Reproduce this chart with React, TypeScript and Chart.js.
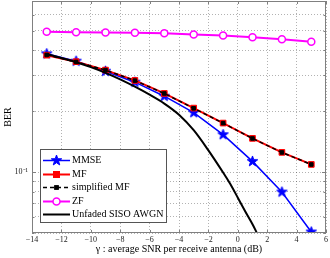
import React, { useEffect, useRef } from "react";
import { Chart, registerables } from "chart.js";

Chart.register(...registerables);

// ---- data ----
const snrPoints = [-13, -11, -9, -7, -5, -3, -1, 1, 3, 5];
const mmseBer = [0.384, 0.353, 0.315, 0.278, 0.237, 0.1965, 0.153, 0.1129, 0.0797, 0.0506];
const mfBer = [0.378, 0.351, 0.319, 0.2836, 0.2446, 0.207, 0.1746, 0.1467, 0.1251, 0.1091];
const simplifiedMfBer = [0.379, 0.35, 0.319, 0.283, 0.2445, 0.2065, 0.1745, 0.1465, 0.125, 0.109];
const zfBer = [0.493, 0.491, 0.489, 0.4875, 0.485, 0.478, 0.473, 0.4636, 0.4534, 0.44];
const awgnSnr = [-13, -12, -11, -10, -9, -8, -7, -6, -5, -4, -3, -2, -1, -0.5, 0, 0.5, 1, 1.32];
const awgnBer = [0.383, 0.366, 0.349, 0.33, 0.309, 0.287, 0.264, 0.241, 0.218, 0.192, 0.161, 0.128, 0.0995, 0.087, 0.0747, 0.064, 0.0552, 0.0497];
const xTickValues = [-14, -12, -10, -8, -6, -4, -2, 0, 2, 4, 6];
const yGridValues = [0.05, 0.06, 0.07, 0.08, 0.09, 0.1, 0.2, 0.3, 0.4, 0.5, 0.6, 0.7];
const seriesNames = ["MMSE", "MF", "simplified MF", "ZF", "Unfaded SISO AWGN"];

const FONT = "'Liberation Serif', 'Times New Roman', serif";

function makeStar(color: string, r: number): HTMLCanvasElement {
  const c = document.createElement("canvas");
  const s = Math.ceil(r * 2 + 2);
  c.width = s;
  c.height = s;
  const ctx = c.getContext("2d")!;
  const cx = s / 2, cy = s / 2;
  ctx.beginPath();
  for (let i = 0; i < 10; i++) {
    const rad = i % 2 === 0 ? r : r * 0.4;
    const a = -Math.PI / 2 + (i * Math.PI) / 5;
    const px = cx + rad * Math.cos(a);
    const py = cy + rad * Math.sin(a);
    if (i === 0) ctx.moveTo(px, py);
    else ctx.lineTo(px, py);
  }
  ctx.closePath();
  ctx.fillStyle = color;
  ctx.fill();
  ctx.strokeStyle = color;
  ctx.lineWidth = 1;
  ctx.stroke();
  return c;
}

const toXY = (xs: number[], ys: number[]) => xs.map((x, i) => ({ x, y: ys[i] }));

export default function App() {
  const ref = useRef<HTMLCanvasElement>(null);

  useEffect(() => {
    if (!ref.current) return;
    const star = makeStar("#0000ff", 5.5);

    const boxPlugin = {
      id: "boxAndLegend",
      afterDraw(chart: any) {
        const { ctx, chartArea: a } = chart;
        const xs = chart.scales.x;
        const ys = chart.scales.y;
        ctx.save();
        ctx.strokeStyle = "#808080";
        ctx.lineWidth = 1;
        ctx.strokeRect(Math.round(a.left) + 0.5, Math.round(a.top) + 0.5, Math.round(a.right - a.left) - 1, Math.round(a.bottom - a.top) - 1);
        ctx.beginPath();
        xTickValues.forEach((v) => {
          const p = Math.round(xs.getPixelForValue(v)) + 0.5;
          ctx.moveTo(p, a.bottom);
          ctx.lineTo(p, a.bottom - 3);
          ctx.moveTo(p, a.top);
          ctx.lineTo(p, a.top + 3);
        });
        yGridValues.forEach((v) => {
          const p = Math.round(ys.getPixelForValue(v)) + 0.5;
          const len = v === 0.1 ? 4 : 2.5;
          ctx.moveTo(a.left, p);
          ctx.lineTo(a.left + len, p);
          ctx.moveTo(a.right, p);
          ctx.lineTo(a.right - len, p);
        });
        ctx.stroke();

        // legend
        const lx = a.left + 8;
        const lw = 126;
        const lh = 73;
        const ly = a.bottom - 11 - lh;
        ctx.fillStyle = "#ffffff";
        ctx.fillRect(lx, ly, lw, lh);
        ctx.strokeStyle = "#555555";
        ctx.strokeRect(Math.round(lx) + 0.5, Math.round(ly) + 0.5, lw, lh);
        const rowH = 13.5;
        chart.data.datasets.forEach((ds: any, i: number) => {
          const y = Math.round(ly + 11 + i * rowH) + 0.5;
          const x0 = lx + 3;
          const x1 = lx + 30;
          const xm = (x0 + x1) / 2;
          ctx.save();
          ctx.strokeStyle = ds.borderColor;
          ctx.lineWidth = ds.borderWidth;
          ctx.setLineDash(ds.borderDash || []);
          ctx.beginPath();
          ctx.moveTo(x0, y);
          ctx.lineTo(x1, y);
          ctx.stroke();
          ctx.setLineDash([]);
          const r = ds.pointRadius;
          if (r > 0) {
            if (ds.pointStyle === "rect") {
              ctx.fillStyle = ds.pointBackgroundColor;
              ctx.strokeStyle = ds.pointBorderColor;
              ctx.lineWidth = ds.pointBorderWidth;
              ctx.fillRect(xm - r * 0.75, y - r * 0.75, r * 1.5, r * 1.5);
              ctx.strokeRect(xm - r * 0.75, y - r * 0.75, r * 1.5, r * 1.5);
            } else if (ds.pointStyle === "circle") {
              ctx.fillStyle = ds.pointBackgroundColor;
              ctx.strokeStyle = ds.pointBorderColor;
              ctx.lineWidth = ds.pointBorderWidth;
              ctx.beginPath();
              ctx.arc(xm, y, r, 0, Math.PI * 2);
              ctx.fill();
              ctx.stroke();
            } else if (ds.pointStyle instanceof HTMLCanvasElement) {
              ctx.drawImage(ds.pointStyle, xm - ds.pointStyle.width / 2, y - ds.pointStyle.height / 2);
            }
          }
          ctx.fillStyle = "#000";
          ctx.font = `10px ${FONT}`;
          ctx.textBaseline = "middle";
          ctx.textAlign = "left";
          ctx.fillText(ds.label, x1 + 2, y);
          ctx.restore();
        });
        ctx.restore();
      },
    };

    const chart = new Chart(ref.current, {
      type: "line",
      data: {
        datasets: [
          {
            label: seriesNames[0],
            data: toXY(snrPoints, mmseBer),
            borderColor: "#0000ff",
            borderWidth: 1.5,
            pointStyle: star as any,
            pointRadius: 5,
            pointBackgroundColor: "#0000ff",
            pointBorderColor: "#0000ff",
            pointBorderWidth: 1,
            order: 4,
          },
          {
            label: seriesNames[1],
            data: toXY(snrPoints, mfBer),
            borderColor: "#ff0000",
            borderWidth: 2,
            pointStyle: "rect",
            pointRadius: 4,
            pointBackgroundColor: "#ff0000",
            pointBorderColor: "#ff0000",
            pointBorderWidth: 1,
            order: 3,
          },
          {
            label: seriesNames[2],
            data: toXY(snrPoints, simplifiedMfBer),
            borderColor: "#000000",
            borderWidth: 1.5,
            borderDash: [4, 3],
            pointStyle: "rect",
            pointRadius: 2.5,
            pointBackgroundColor: "#000000",
            pointBorderColor: "#000000",
            pointBorderWidth: 1,
            order: 2,
          },
          {
            label: seriesNames[3],
            data: toXY(snrPoints, zfBer),
            borderColor: "#ff00ff",
            borderWidth: 2,
            pointStyle: "circle",
            pointRadius: 3.5,
            pointBackgroundColor: "#ffffff",
            pointBorderColor: "#ff00ff",
            pointBorderWidth: 1.5,
            order: 1,
          },
          {
            label: seriesNames[4],
            data: toXY(awgnSnr, awgnBer),
            borderColor: "#000000",
            borderWidth: 2,
            pointRadius: 0,
            pointStyle: "circle",
            tension: 0.3,
            order: 0,
          },
        ] as any,
      },
      options: {
        animation: false,
        responsive: false,
        events: [],
        layout: { autoPadding: false, padding: { top: 1, right: 4, left: 0, bottom: 0 } },
        plugins: { legend: { display: false }, tooltip: { enabled: false } },
        scales: {
          x: {
            type: "linear",
            min: -14,
            max: 6,
            afterBuildTicks: (s: any) => {
              s.ticks = xTickValues.map((v) => ({ value: v }));
            },
            afterFit: (s: any) => {
              s.height = 25;
              s.paddingLeft = 0;
              s.paddingRight = 0;
            },
            border: { display: false, dash: [1, 2] },
            grid: { color: "rgba(0,0,0,0.3)", lineWidth: 1, drawTicks: false },
            ticks: {
              padding: 2,
              color: "#222",
              font: { family: FONT, size: 8 },
              maxRotation: 0,
              callback: (v: any) => (Number(v) < 0 ? "\u2212" + Math.abs(Number(v)) : String(v)),
            },
            title: {
              display: true,
              text: "\u03b3 : average SNR per receive antenna (dB)",
              color: "#000",
              font: { family: FONT, size: 10 },
              padding: { top: 0, bottom: 3 },
            },
          },
          y: {
            type: "logarithmic",
            min: 0.05,
            max: 0.7,
            afterBuildTicks: (s: any) => {
              s.ticks = yGridValues.map((v) => ({ value: v }));
            },
            afterFit: (s: any) => {
              s.width = 32;
              s.paddingTop = 0;
              s.paddingBottom = 0;
            },
            border: { display: false, dash: [1, 2] },
            grid: { color: "rgba(0,0,0,0.3)", lineWidth: 1, drawTicks: false },
            ticks: {
              padding: 4,
              color: "#222",
              font: { family: FONT, size: 8 },
              autoSkip: false,
              callback: (v: any) => (Math.abs(Number(v) - 0.1) < 1e-9 ? "10\u207b\u00b9" : ""),
            },
            title: {
              display: true,
              text: "BER",
              color: "#000",
              font: { family: FONT, size: 10 },
              padding: { top: 2, bottom: 0 },
            },
          },
        },
      },
      plugins: [boxPlugin],
    } as any);
    return () => chart.destroy();
  }, []);

  return (
    <div style={{ position: "fixed", left: 0, top: 0, width: 330, height: 258, background: "#fff" }}>
      <canvas ref={ref} width={330} height={258} style={{ display: "block" }} />
    </div>
  );
}
